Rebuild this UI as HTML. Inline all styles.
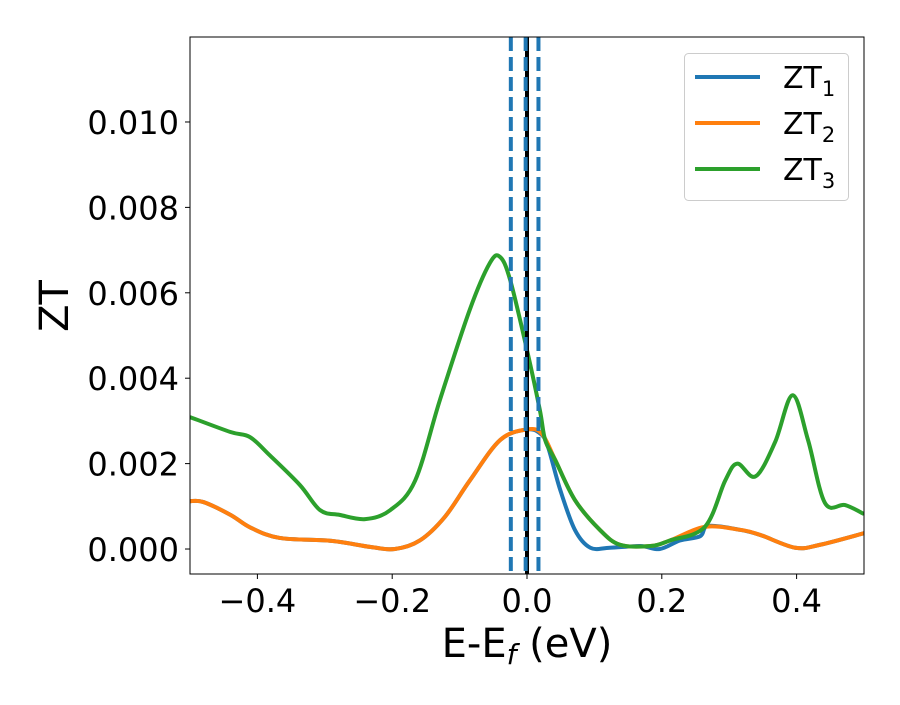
<!DOCTYPE html>
<html><head><meta charset="utf-8"><style>
body{margin:0;background:#fff}
svg text{font-family:"DejaVu Sans","Liberation Sans",sans-serif;fill:#000}
</style></head><body>
<svg id="chart" width="900" height="700" viewBox="0 0 900 700" xmlns="http://www.w3.org/2000/svg">
<rect width="900" height="700" fill="#fff"/>
<g id="plot"></g>
<g id="axes"></g>
<g>
<rect x="684.5" y="53.5" width="164" height="147" rx="4" fill="#fff" stroke="#ccc"/>
<g><line x1="695" y1="77" x2="760" y2="77" stroke="#1f77b4" stroke-width="4"/><text x="783" y="88" font-size="30">ZT<tspan font-size="21" dy="8">1</tspan></text></g>
<g><line x1="695" y1="123" x2="760" y2="123" stroke="#ff7f0e" stroke-width="4"/><text x="783" y="134" font-size="30">ZT<tspan font-size="21" dy="8">2</tspan></text></g>
<g><line x1="695" y1="169" x2="760" y2="169" stroke="#2ca02c" stroke-width="4"/><text x="783" y="180" font-size="30">ZT<tspan font-size="21" dy="8">3</tspan></text></g>
</g>
<text x="527" y="657" font-size="40" text-anchor="middle">E-E<tspan font-size="28" dy="7" font-style="italic">f</tspan><tspan dy="-7"> (eV)</tspan></text>
<text transform="translate(68,306) rotate(-90)" font-size="40" text-anchor="middle">ZT</text>
</svg>
<script>
const xTicks=[-0.4,-0.2,0.0,0.2,0.4];
const yTicks=[0.000,0.002,0.004,0.006,0.008,0.010];
const zt1E=[-0.5,-0.48,-0.44,-0.41,-0.367,-0.29,-0.233,-0.196,-0.159,-0.122,-0.085,-0.04,0,0.02,0.031,0.049,0.071,0.094,0.123,0.168,0.197,0.227,0.257,0.269,0.316,0.346,0.398,0.435,0.5];
const zt1V=[0.00112,0.0011,0.0008,0.0005,0.00026,0.00019,0.00005,0,0.0002,0.00075,0.0016,0.00255,0.0028,0.0027,0.0024,0.0014,0.00045,0.00003,0.00003,0.00007,0,0.0002,0.0003,0.00054,0.00045,0.00033,0.00003,0.0001,0.00037];
const zt2E=[-0.5,-0.48,-0.44,-0.41,-0.367,-0.29,-0.233,-0.196,-0.159,-0.122,-0.085,-0.04,0,0.022,0.042,0.071,0.108,0.138,0.183,0.212,0.264,0.316,0.346,0.398,0.435,0.5];
const zt2V=[0.00112,0.0011,0.0008,0.0005,0.00026,0.00019,0.00005,0,0.0002,0.00075,0.0016,0.00255,0.0028,0.0027,0.00208,0.00115,0.00045,0.0001,0.00007,0.0002,0.00052,0.00045,0.00033,0.00003,0.0001,0.00037];
const zt3E=[-0.5,-0.44,-0.411,-0.382,-0.337,-0.307,-0.278,-0.24,-0.203,-0.166,-0.129,-0.085,-0.055,-0.04,-0.025,0,0.019,0.027,0.042,0.071,0.108,0.138,0.183,0.212,0.264,0.294,0.312,0.339,0.368,0.394,0.417,0.442,0.472,0.5];
const zt3V=[0.00309,0.00274,0.00262,0.0022,0.0015,0.00091,0.0008,0.0007,0.00091,0.0016,0.0035,0.0056,0.0067,0.00684,0.0063,0.00466,0.00326,0.00255,0.00208,0.00115,0.00045,0.0001,0.00007,0.0002,0.00052,0.0016,0.002,0.0017,0.0025,0.0036,0.00255,0.00108,0.00103,0.00082];
const vLinesDashed=[-0.024,-0.002,0.017];
const vLineSolid=[0.0];
const X0=190,X1=864,Y0=574,Y1=37,xMin=-0.5,xMax=0.5,yMin=-0.000585,yMax=0.01199;
const NS="http://www.w3.org/2000/svg";
function sx(v){return X0+(v-xMin)/(xMax-xMin)*(X1-X0);}
function sy(v){return Y0-(v-yMin)/(yMax-yMin)*(Y0-Y1);}
function mk(tag,attrs,parent){const e=document.createElementNS(NS,tag);for(const k in attrs)e.setAttribute(k,attrs[k]);parent.appendChild(e);return e;}
function smooth(E,V){const p=E.map((e,i)=>[sx(e),sy(V[i])]);let d=`M${p[0][0]},${p[0][1]}`;
for(let i=0;i<p.length-1;i++){const a=p[i-1]||p[i],b=p[i],c=p[i+1],n=p[i+2]||c;
d+=` C${b[0]+(c[0]-a[0])/6},${b[1]+(c[1]-a[1])/6} ${c[0]-(n[0]-b[0])/6},${c[1]-(n[1]-b[1])/6} ${c[0]},${c[1]}`;}return d;}
const plot=document.getElementById('plot'),axes=document.getElementById('axes');
const cp=mk('clipPath',{id:'clip'},plot);
mk('rect',{x:X0,y:Y1,width:X1-X0,height:Y0-Y1},cp);
const g=mk('g',{'clip-path':'url(#clip)'},plot);
const series=[[zt1E,zt1V,'#1f77b4','zt1-line'],[zt2E,zt2V,'#ff7f0e','zt2-line'],[zt3E,zt3V,'#2ca02c','zt3-line']];
series.forEach(s=>{const el=mk('path',{d:smooth(s[0],s[1]),fill:'none',stroke:s[2],'stroke-width':4,'stroke-linejoin':'round'},g);

});
vLineSolid.forEach(v=>{const el=mk('line',{x1:sx(v),x2:sx(v),y1:Y1,y2:Y0,stroke:'#000','stroke-width':4},g);

});
vLinesDashed.forEach(v=>{const el=mk('line',{x1:sx(v),x2:sx(v),y1:Y1,y2:Y0,stroke:'#1f77b4','stroke-width':4,'stroke-dasharray':'14 6'},g);

});
const fr=mk('rect',{x:X0,y:Y1,width:X1-X0,height:Y0-Y1,fill:'none',stroke:'#000','stroke-width':1},axes);


xTicks.forEach(v=>{const x=sx(v);mk('line',{x1:x,x2:x,y1:Y0,y2:Y0+5,stroke:'#000'},axes);
const t=mk('text',{x:x,y:Y0+38,'font-size':32,'text-anchor':'middle'},axes);t.textContent=(v<0?'\u2212':'')+Math.abs(v).toFixed(1);

});
yTicks.forEach(v=>{const y=sy(v);mk('line',{x1:X0-5,x2:X0,y1:y,y2:y,stroke:'#000'},axes);
const t=mk('text',{x:X0-11,y:y+12,'font-size':32,'text-anchor':'end'},axes);t.textContent=v.toFixed(3);

});
</script>
</body></html>
